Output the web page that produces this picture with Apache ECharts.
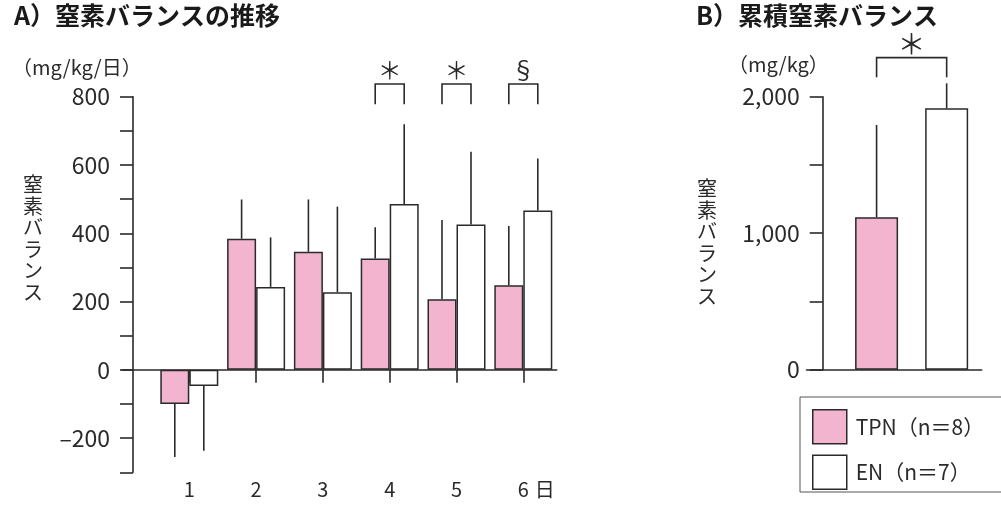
<!DOCTYPE html>
<html><head><meta charset="utf-8">
<script src="https://cdn.jsdelivr.net/npm/echarts@6/dist/echarts.min.js"></script>
<style>html,body{margin:0;padding:0;background:#fff}#c{width:1001px;height:507px}</style>
</head><body><div id="c"></div>
<script>
// ---- data ----
const days = [1, 2, 3, 4, 5, 6];
const dayUnit = '日';
const groups = ['TPN（n＝8）', 'EN（n＝7）'];
const tpnDaily = [-100, 384, 346, 326, 207, 248];
const tpnDailySD = [155, 115, 153, 92, 232, 173];
const enDaily = [-47, 243, 227, 486, 426, 467];
const enDailySD = [190, 145, 251, 233, 213, 152];
const sigDays = [4, 5, 6];
const sigMarks = ['＊', '＊', '§'];
const cumPos = [1, 2];
const cumMean = [1116, 1915];
const cumSD = [677, 183];
const cumSigMark = '＊';
const titleA = 'A）窒素バランスの推移';
const titleB = 'B）累積窒素バランス';
const unitA = '（mg/kg/日）';
const unitB = '（mg/kg）';
const yName = '窒素バランス';

// ---- style ----
const FONT = '"Noto Sans CJK JP", "Noto Sans", sans-serif';
const PINK = '#F3B4CF';
const INK = '#2a2a2a';
const LW = 1.6;
const BW_A = 29, BW_B = 43;

const chart = echarts.init(document.getElementById('c'), null, {renderer: 'canvas'});

function errSeries(xIdx, yIdx, xs, means, sds, offset) {
  return {
    type: 'custom', xAxisIndex: xIdx, yAxisIndex: yIdx, z: 5, silent: true, clip: false,
    data: xs.map((x, i) => [x, means[i], sds[i]]),
    renderItem(params, api) {
      const x = api.value(0), m = api.value(1), s = api.value(2);
      const end = m >= 0 ? m + s : m - s;
      const p0 = api.coord([x, m]), p1 = api.coord([x, end]);
      return {type: 'line', shape: {x1: p0[0] + offset, y1: p0[1], x2: p1[0] + offset, y2: p1[1]},
        style: {stroke: INK, lineWidth: LW}};
    }
  };
}

function bracketSeries(xIdx, yIdx, pairs, marks, top, bot, fontSize, gap) {
  return {
    type: 'custom', xAxisIndex: xIdx, yAxisIndex: yIdx, z: 5, silent: true, clip: false,
    data: pairs,
    renderItem(params, api) {
      const a = api.value(0), b = api.value(1), ao = api.value(2), bo = api.value(3);
      const yt = api.coord([a, top])[1], yb = api.coord([a, bot])[1];
      const xl = api.coord([a, 0])[0] + ao, xr = api.coord([b, 0])[0] + bo;
      return {type: 'group', children: [
        {type: 'polyline', shape: {points: [[xl, yb], [xl, yt], [xr, yt], [xr, yb]]},
          style: {stroke: INK, lineWidth: LW, fill: null}},
        {type: 'text', style: {text: marks[params.dataIndex], x: (xl + xr) / 2, y: yt - gap,
          align: 'center', verticalAlign: 'middle', font: fontSize + 'px ' + FONT, fill: INK}}
      ]};
    }
  };
}

const option = {
  animation: false,
  textStyle: {fontFamily: FONT, color: INK},
  title: [
    {text: titleA, left: 14, top: 3, padding: 0, textStyle: {fontSize: 25, fontWeight: 'bold', color: '#1a1a1a', fontFamily: FONT}},
    {text: titleB, left: 696, top: 3, padding: 0, textStyle: {fontSize: 25, fontWeight: 'bold', color: '#1a1a1a', fontFamily: FONT}},
    {text: unitA, left: 12, top: 57, padding: 0, textStyle: {fontSize: 20, fontWeight: 'normal', color: INK, fontFamily: FONT}},
    {text: unitB, left: 728, top: 54, padding: 0, textStyle: {fontSize: 20, fontWeight: 'normal', color: INK, fontFamily: FONT}},
    {text: yName.split('').join('\n'), left: 23, top: 174, padding: 0, textStyle: {fontSize: 20, lineHeight: 21.5, fontWeight: 'normal', color: INK, fontFamily: FONT}},
    {text: yName.split('').join('\n'), left: 697, top: 178, padding: 0, textStyle: {fontSize: 20, lineHeight: 21.5, fontWeight: 'normal', color: INK, fontFamily: FONT}}
  ],
  legend: {
    data: groups.map((g, i) => ({name: g, icon: 'rect', itemStyle: {color: i === 0 ? PINK : '#fff', borderColor: INK, borderWidth: 1.5}})),
    orient: 'vertical', left: 800, top: 397, padding: [12, 19, 2, 12],
    itemWidth: 34, itemHeight: 34, itemGap: 10,
    borderColor: '#555', borderWidth: 1,
    textStyle: {fontSize: 21, color: INK, fontFamily: FONT, padding: [0, 0, 0, 4]},
    selectedMode: false
  },
  grid: [
    {left: 122.5, width: 434.2, top: 96.7, height: 375.6},
    {left: 806.5, width: 175.2, top: 96.7, height: 273}
  ],
  xAxis: [
    {gridIndex: 0, type: 'value', min: 0, max: 6.5, position: 'bottom',
      axisLine: {show: false, onZero: false}, axisTick: {show: false}, splitLine: {show: false},
      axisLabel: {customValues: days, fontSize: 20, color: INK, margin: 7},
      name: dayUnit, nameLocation: 'end', nameGap: -2,
      nameTextStyle: {fontSize: 20, color: INK, align: 'right', verticalAlign: 'top', padding: [7, 0, 0, 0]}},
    {gridIndex: 0, type: 'value', min: 0, max: 6.5, position: 'bottom',
      axisLine: {show: true, onZero: true, lineStyle: {color: INK, width: LW}},
      axisTick: {show: true, customValues: days, length: 13, lineStyle: {color: INK, width: LW}},
      axisLabel: {show: false}, splitLine: {show: false}},
    {gridIndex: 1, type: 'value', min: 0, max: 2.5, position: 'bottom',
      axisLine: {show: true, onZero: true, lineStyle: {color: INK, width: LW}},
      axisTick: {show: false}, axisLabel: {show: false}, splitLine: {show: false}}
  ],
  yAxis: [
    {gridIndex: 0, type: 'value', min: -300, max: 800, interval: 100, offset: -10.5,
      axisLine: {show: true, onZero: false, lineStyle: {color: INK, width: LW}},
      axisTick: {show: true, length: 13, lineStyle: {color: INK, width: LW}},
      splitLine: {show: false},
      axisLabel: {fontSize: 23, color: INK, margin: 23,
        formatter: v => (v % 200 === 0 ? (v < 0 ? '–' + (-v) : String(v)) : '')}},
    {gridIndex: 1, type: 'value', min: 0, max: 2000, interval: 500, offset: -16.2,
      axisLine: {show: true, onZero: false, lineStyle: {color: INK, width: LW}},
      axisTick: {show: true, length: 13, lineStyle: {color: INK, width: LW}},
      splitLine: {show: false},
      axisLabel: {fontSize: 23, color: INK, margin: 23,
        formatter: v => (v % 1000 === 0 ? v.toLocaleString('en-US') : '')}}
  ],
  series: [
    {name: groups[0], type: 'bar', xAxisIndex: 0, yAxisIndex: 0, barWidth: BW_A, barGap: '0%', z: 3,
      data: days.map((d, i) => [d, tpnDaily[i]]),
      itemStyle: {color: PINK, borderColor: INK, borderWidth: 1.5}},
    {name: groups[1], type: 'bar', xAxisIndex: 0, yAxisIndex: 0, barWidth: BW_A, barGap: '0%', z: 3,
      data: days.map((d, i) => [d, enDaily[i]]),
      itemStyle: {color: '#fff', borderColor: INK, borderWidth: 1.5}},
    errSeries(0, 0, days, tpnDaily, tpnDailySD, -BW_A / 2),
    errSeries(0, 0, days, enDaily, enDailySD, BW_A / 2),
    bracketSeries(0, 0, sigDays.map(d => [d, d, -BW_A / 2, BW_A / 2]), sigMarks, 837, 778, 24, 14),
    {name: groups[0], type: 'bar', xAxisIndex: 2, yAxisIndex: 1, barWidth: BW_B, barGap: '-100%', z: 3,
      data: [[cumPos[0], cumMean[0]]],
      itemStyle: {color: PINK, borderColor: INK, borderWidth: 1.5}},
    {name: groups[1], type: 'bar', xAxisIndex: 2, yAxisIndex: 1, barWidth: BW_B, barGap: '-100%', z: 3,
      data: [[cumPos[1], cumMean[1]]],
      itemStyle: {color: '#fff', borderColor: INK, borderWidth: 1.5}},
    errSeries(2, 1, cumPos, cumMean, cumSD, 0),
    bracketSeries(2, 1, [[cumPos[0], cumPos[1], 0, 0]], [cumSigMark], 2286, 2142, 28, 13)
  ]
};
chart.setOption(option);
</script>
</body></html>
